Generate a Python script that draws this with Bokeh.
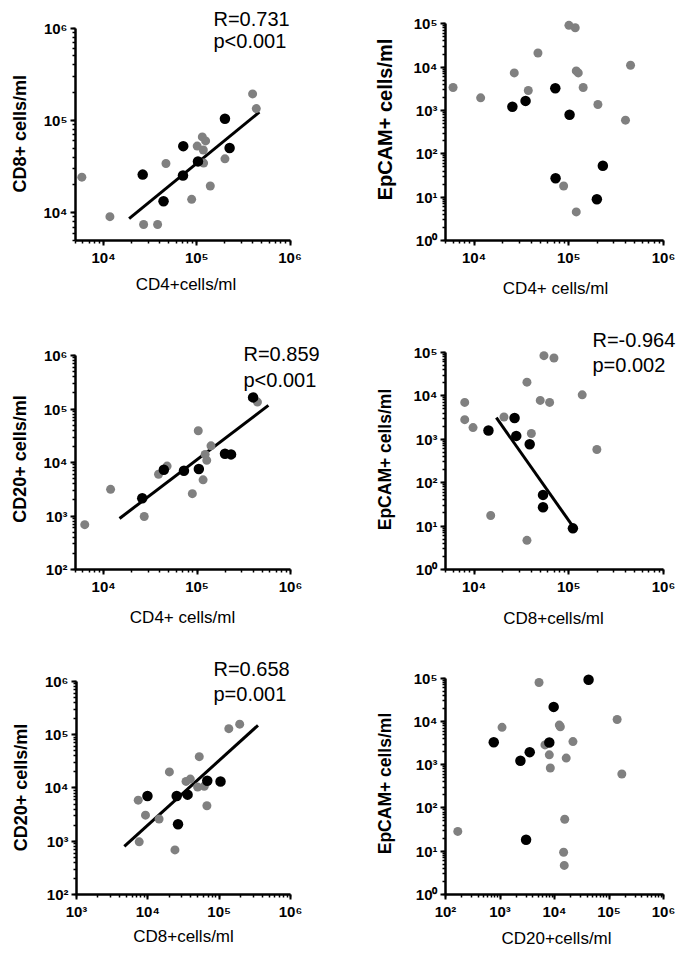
import math
from bokeh.plotting import figure
from bokeh.layouts import column, row
from bokeh.models import Label, CustomJSTickFormatter, Range1d, Title
from bokeh.embed import file_html
from bokeh.resources import INLINE

# ---------------- data ----------------
# Panel 1: CD4 vs CD8
p1_grey_x = [5850, 11700, 26900, 38000, 46700, 88100, 101000, 114600, 124400, 117500, 118400, 139600, 200500, 397000, 435000]
p1_grey_y = [24300, 9070, 7460, 7460, 34200, 13970, 52800, 66300, 60100, 47900, 34500, 19500, 38400, 194000, 134600]
p1_black_x = [26300, 44000, 71600, 71100, 103000, 200500, 225000]
p1_black_y = [25900, 13300, 52700, 25300, 36000, 104500, 50200]
p1_fit_x = [18800, 469000]
p1_fit_y = [8630, 123000]
p1_stats = ["R=0.731", "p<0.001"]

# Panel 2: CD4 vs EpCAM
p2_grey_x = [6010, 11750, 26600, 37400, 47300, 100400, 117000, 120000, 126000, 142000, 203000, 397000, 449000, 88300, 120000]
p2_grey_y = [3370, 1950, 7330, 2880, 21100, 91600, 80900, 8150, 7330, 3370, 1370, 597, 11000, 18.1, 4.57]
p2_black_x = [25400, 35000, 72100, 102000, 72600, 229000, 198000]
p2_black_y = [1210, 1660, 3250, 793, 27.2, 53.2, 8.93]

# Panel 3: CD4 vs CD20
p3_grey_x = [6280, 11870, 27200, 38700, 47800, 89000, 103000, 116000, 122000, 127000, 141000, 443000]
p3_grey_y = [689, 3150, 979, 6030, 8570, 2620, 39200, 4740, 14200, 11000, 20500, 135000]
p3_black_x = [25900, 44100, 72400, 104500, 199000, 231000, 398000]
p3_black_y = [2150, 7330, 7030, 7550, 14600, 14200, 165000]
p3_fit_x = [14800, 580000]
p3_fit_y = [900, 117000]
p3_stats = ["R=0.859", "p<0.001"]

# Panel 4: CD8 vs EpCAM
p4_grey_x = [7980, 7980, 9760, 20700, 36200, 54700, 69800, 50000, 62800, 138700, 40300, 198000, 15000, 36200]
p4_grey_y = [7030, 2820, 1850, 3240, 20600, 83900, 74100, 7820, 7030, 10500, 1350, 580, 17.5, 4.7]
p4_black_x = [14200, 26800, 27900, 38700, 53500, 53500, 110600]
p4_black_y = [1580, 3080, 1190, 767, 52.2, 27.2, 8.85]
p4_fit_x = [17200, 112500]
p4_fit_y = [3130, 9.3]
p4_stats = ["R=-0.964", "p=0.002"]

# Panel 5: CD8 vs CD20
p5_grey_x = [7330, 7570, 9270, 14380, 20050, 24000, 34300, 39400, 52600, 49900, 61800, 67300, 136500, 194000]
p5_grey_y = [5900, 975, 3090, 2610, 20050, 687, 13300, 14700, 38800, 10400, 10800, 4650, 130000, 158000]
p5_black_x = [9880, 25400, 36100, 68100, 104500, 26500]
p5_black_y = [7080, 7080, 7500, 13700, 13200, 2090]
p5_fit_x = [4680, 350000]
p5_fit_y = [802, 150000]
p5_stats = ["R=0.658", "p=0.001"]

# Panel 6: CD20 vs EpCAM
p6_grey_x = [168, 1090, 5200, 6680, 8030, 8380, 12250, 12800, 16400, 21800, 15400, 14700, 15100, 141000, 172000]
p6_grey_y = [28.7, 7300, 79600, 2870, 1690, 840, 8240, 7550, 1420, 3420, 55, 9.5, 4.7, 11100, 611]
p6_black_x = [768, 2370, 3510, 8030, 9660, 42200, 3010]
p6_black_y = [3300, 1240, 1950, 3250, 21700, 91600, 18.5]

# ---------------- styling ----------------
FONT = "Liberation Sans"
GREY = "#808080"

SUP_JS = """
const sup = {"0":"\u2070","1":"\u00b9","2":"\u00b2","3":"\u00b3","4":"\u2074","5":"\u2075","6":"\u2076","7":"\u2077","8":"\u2078","9":"\u2079","-":"\u207b"};
const e = Math.round(Math.log10(tick));
return "10" + String(e).split("").map(c => sup[c]).join("");
"""

# Arial / Liberation Sans advance widths (em) used to centre axis titles
W_NORMAL = {"C": .722, "D": .722, "E": .667, "p": .556, "A": .667, "M": .833, "+": .584,
            " ": .278, "c": .5, "e": .556, "l": .222, "s": .5, "/": .278, "m": .833}
W_BOLD = {"C": .722, "D": .722, "E": .667, "p": .611, "A": .722, "M": .833, "+": .584,
          " ": .278, "c": .556, "e": .556, "l": .278, "s": .556, "/": .278, "m": .889}


def text_width(s, size, bold):
    tbl = W_BOLD if bold else W_NORMAL
    return sum(tbl.get(ch, .556) for ch in s) * size


XL_SIZE = 17


class Panel:
    """A log-log panel; the axes cover [xlo,xhi] x [ylo,yhi] and land at the
    given page pixels. The frame extends to the top/right edge of the figure so
    that texts and points near the edges are not clipped; the axis titles are
    centred at the given page positions."""

    def __init__(self, fx, fy, w, h, xb, yb, x0, x1, ytop, ybot,
                 xlabel, ylabel, xc, yc, ysize, xs, ys):
        self.xb, self.yb = xb, yb
        self.x0, self.ybot = x0, ybot
        self.lx0 = math.log10(xb[0])
        self.ly0 = math.log10(yb[0])
        self.ppx = (x1 - x0) / (math.log10(xb[1]) - self.lx0)
        self.ppy = (ybot - ytop) / (math.log10(yb[1]) - self.ly0)
        bl = x0 - fx
        bb = fy + h - ybot
        xr = (xb[0], self.px2x(fx + w))
        yr = (yb[0], self.px2y(fy))
        p = figure(width=w, height=h, x_axis_type="log", y_axis_type="log",
                   x_range=Range1d(*xr), y_range=Range1d(*yr),
                   output_backend="svg", toolbar_location=None,
                   min_border_left=bl, min_border_right=0,
                   min_border_top=0, min_border_bottom=bb)
        p.grid.visible = False
        p.outline_line_color = None
        p.background_fill_color = "white"
        p.border_fill_color = "white"
        for ax in (p.xaxis[0], p.yaxis[0]):
            ax.axis_line_width = 2.5
            ax.axis_line_color = "black"
            ax.major_tick_line_color = "black"
            ax.minor_tick_line_color = "black"
            ax.major_tick_line_width = 2
            ax.minor_tick_line_width = 1.5
            ax.major_tick_in = 0
            ax.major_tick_out = 5
            ax.minor_tick_in = 0
            ax.minor_tick_out = 3
            ax.major_label_standoff = 3
            ax.major_label_text_font = FONT
            ax.major_label_text_font_style = "bold"
            ax.major_label_text_font_size = "15px"
            ax.major_label_text_color = "black"
            ax.formatter = CustomJSTickFormatter(code=SUP_JS)
        p.xaxis[0].bounds = xb
        p.yaxis[0].bounds = yb
        # axis titles, centred on the given page positions
        xw = text_width(xlabel, XL_SIZE, False)
        p.add_layout(Title(text=xlabel, align="left", vertical_align="bottom",
                           offset=xc - x0 - xw / 2, standoff=xs,
                           text_font=FONT, text_font_size=f"{XL_SIZE}px",
                           text_font_style="normal", text_color="black"), "below")
        yw = text_width(ylabel, ysize, True)
        p.add_layout(Title(text=ylabel, align="left", vertical_align="top",
                           offset=ybot - yc - yw / 2, standoff=ys,
                           text_font=FONT, text_font_size=f"{ysize}px",
                           text_font_style="bold", text_color="black"), "left")
        self.p = p

    def px2x(self, px):
        return 10 ** (self.lx0 + (px - self.x0) / self.ppx)

    def px2y(self, py):
        return 10 ** (self.ly0 + (self.ybot - py) / self.ppy)

    def points(self, gx, gy, bx, by, fx=None, fy=None):
        if fx is not None:
            self.p.line(fx, fy, line_width=3, line_color="black")
        self.p.scatter(gx, gy, size=9, fill_color=GREY, line_color=None)
        self.p.scatter(bx, by, size=10.5, fill_color="black", line_color=None)

    def stats(self, lines, left, baselines):
        for txt, b in zip(lines, baselines):
            self.p.add_layout(Label(x=self.px2x(left), y=self.px2y(b), text=txt,
                                    text_font=FONT, text_font_size="20px",
                                    text_color="black", text_align="left",
                                    text_baseline="alphabetic"))


LW, RW = 340, 344
H1, H2, H3 = 305, 332, 315
Y1, Y2, Y3 = 0, H1, H1 + H2

a = Panel(0, Y1, LW, H1, (5000, 1e6), (5000, 1e6), 75, 289.5, 28.3, 245,
          "CD4+cells/ml", "CD8+ cells/ml", 185.5, 138.3, 18, 9, 18)
a.points(p1_grey_x, p1_grey_y, p1_black_x, p1_black_y, p1_fit_x, p1_fit_y)
a.stats(p1_stats, 213, [18.7, 41.7])

b = Panel(LW, Y1, RW, H1, (5000, 1e6), (1, 1e5), 445, 663, 23.3, 241,
          "CD4+ cells/ml", "EpCAM+ cells/ml", 555, 120, 20, 16, 26)
b.points(p2_grey_x, p2_grey_y, p2_black_x, p2_black_y)

c = Panel(0, Y2, LW, H2, (5000, 1e6), (100, 1e6), 75, 290, 356, 574,
          "CD4+ cells/ml", "CD20+ cells/ml", 182, 463.5, 18, 16, 18)
c.points(p3_grey_x, p3_grey_y, p3_black_x, p3_black_y, p3_fit_x, p3_fit_y)
c.stats(p3_stats, 243, [354.3, 381])

d = Panel(LW, Y2, RW, H2, (5000, 1e6), (1, 1e5), 445, 663, 352, 570,
          "CD8+cells/ml", "EpCAM+ cells/ml", 553, 460, 17.5, 19, 28)
d.points(p4_grey_x, p4_grey_y, p4_black_x, p4_black_y, p4_fit_x, p4_fit_y)
d.stats(p4_stats, 592, [340, 364.3])

e = Panel(0, Y3, LW, H3, (1000, 1e6), (100, 1e6), 76, 290, 682, 900,
          "CD8+cells/ml", "CD20+ cells/ml", 183, 793, 18, 5, 18)
e.points(p5_grey_x, p5_grey_y, p5_black_x, p5_black_y, p5_fit_x, p5_fit_y)
e.stats(p5_stats, 213, [669.3, 695])

f = Panel(LW, Y3, RW, H3, (100, 1e6), (1, 1e5), 445, 663, 678, 896,
          "CD20+cells/ml", "EpCAM+ cells/ml", 556, 785, 17.5, 9, 28)
f.points(p6_grey_x, p6_grey_y, p6_black_x, p6_black_y)

layout = column(row(a.p, b.p), row(c.p, d.p), row(e.p, f.p))

open("out.html", "w").write(file_html(layout, INLINE))
